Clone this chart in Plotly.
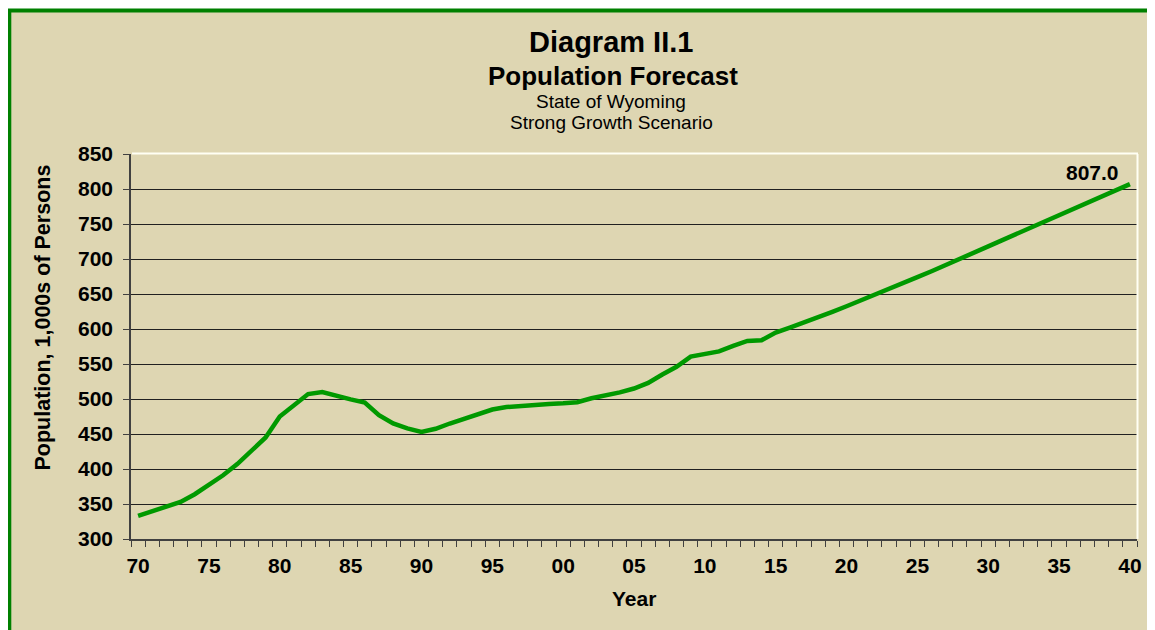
import plotly.graph_objects as go

# ---------------- data ----------------
years = list(range(1970, 2041))
population = [
    333, 340, 347, 353, 364, 377, 391, 407, 425, 445,          # 1970-1979
    475, 491, 507, 510, 504, 499.5, 495, 477, 465, 458,        # 1980-1989
    453, 457.5, 465, 472, 479.5, 485, 488.5, 490.5, 491.5, 493,  # 1990-1999
    494, 495.5, 501, 504.5, 509.5, 515, 523, 535, 546, 560.5,  # 2000-2009
    564, 568, 576, 583, 584, 595, 602, 609, 616.7, 624.5,      # 2010-2019
    632.5, 640.5, 648.5, 657, 665.5, 674, 682.5, 691, 700, 709,  # 2020-2029
    718, 727, 736, 745, 754, 763, 772, 781, 790, 798.5,        # 2030-2039
    807.0,                                                      # 2040
]
assert len(years) == len(population)
tick_years = list(range(1970, 2041, 5))
tick_labels = [f"{y % 100:02d}" for y in tick_years]
y_ticks = list(range(300, 851, 50))

title_main = "Diagram II.1"
title_sub = "Population Forecast"
subtitle1 = "State of Wyoming"
subtitle2 = "Strong Growth Scenario"
y_title = "Population, 1,000s of Persons"
x_title = "Year"

# ---------------- layout geometry (page pixels) ----------------
PAGE_W, PAGE_H = 1155, 630
OFF = 8                          # default body margin of the html page
PL, PT, PR, PB = 131, 154, 1137, 539   # plot area in page pixels
W, H = PAGE_W - OFF, PAGE_H - OFF
PW, PH = PR - PL, PB - PT

def px(x):
    return (x - PL) / PW

def py(y):
    return (PB - y) / PH

FONT = "Arial, Liberation Sans, Helvetica, sans-serif"
TAN = "#DED6B2"
PLOT_BG = "#FFFFE0"
LINE_GREEN = "#009900"
FRAME_GREEN = "#008000"

fig = go.Figure()
fig.add_trace(go.Scatter(
    x=years, y=population, mode="lines",
    line=dict(color=LINE_GREEN, width=4.5),
    hoverinfo="x+y", showlegend=False,
))

annotations = [
    dict(text=f"<b>{title_main}</b>", x=px(611), y=py(42.5), font=dict(size=29)),
    dict(text=f"<b>{title_sub}</b>", x=px(613), y=py(75.5), font=dict(size=26)),
    dict(text=subtitle1, x=px(611), y=py(101), font=dict(size=19)),
    dict(text=subtitle2, x=px(611), y=py(122.5), font=dict(size=19)),
    dict(text=f"<b>{y_title}</b>", x=px(42), y=py(317.5), textangle=-90, font=dict(size=21.5)),
    dict(text=f"<b>{x_title}</b>", x=px(634), y=py(598.5), font=dict(size=21)),
]
for a in annotations:
    a.update(xref="paper", yref="paper", xanchor="center", yanchor="middle",
             showarrow=False)
    a["font"].update(family=FONT, color="black")

# end-of-series value label
annotations.append(dict(
    x=years[-1], y=population[-1], xref="x", yref="y",
    text=f"<b>{population[-1]:.1f}</b>", showarrow=False,
    xanchor="right", yanchor="middle", xshift=-9, yshift=12,
    font=dict(family=FONT, size=21, color="black"),
))

shapes = [
    # framed tan background (frame extends past right/bottom edge)
    dict(type="rect", xref="paper", yref="paper", layer="below",
         x0=px(9.3), x1=px(PAGE_W + 40), y0=py(10.5), y1=py(PAGE_H + 40),
         fillcolor=TAN, line=dict(color=FRAME_GREEN, width=4)),
    # light top / right edge of plot area
    dict(type="line", xref="paper", yref="paper", layer="above",
         x0=px(PL + 1), x1=1 + 1 / PW, y0=1 + 0.5 / PH, y1=1 + 0.5 / PH,
         line=dict(color="#FFFFF4", width=2)),
    dict(type="line", xref="paper", yref="paper", layer="above",
         x0=1 + 0.5 / PW, x1=1 + 0.5 / PW, y0=0, y1=1,
         line=dict(color="#FFFFF4", width=2)),
]

fig.update_layout(
    width=W, height=H,
    margin=dict(l=PL - OFF, r=PAGE_W - PR, t=PT - OFF, b=PAGE_H - PB, pad=0),
    paper_bgcolor="white",
    plot_bgcolor=PLOT_BG,
    font=dict(family=FONT, color="black"),
    annotations=annotations,
    shapes=shapes,
    showlegend=False,
)

fig.update_xaxes(
    range=[years[0] - 0.5, years[-1] + 0.5],
    tickmode="array", tickvals=tick_years, ticktext=tick_labels,
    ticks="", ticklabelstandoff=7,
    tickfont=dict(family=FONT, size=21, color="black", weight="bold"),
    showgrid=False, zeroline=False,
    showline=True, linecolor="#404040", linewidth=1.5,
    minor=dict(ticks="outside", tick0=years[0] - 0.5, dtick=1,
               ticklen=6, tickcolor="#404040", tickwidth=1.2, showgrid=False),
)
fig.update_yaxes(
    range=[y_ticks[0], y_ticks[-1]],
    tickmode="array", tickvals=y_ticks,
    ticks="outside", ticklen=6, tickcolor="#404040", tickwidth=1.2,
    ticklabelstandoff=6,
    tickfont=dict(family=FONT, size=21, color="black", weight="bold"),
    showgrid=True, gridcolor="#202020", gridwidth=1,
    zeroline=False,
    showline=True, linecolor="#404040", linewidth=1.5,
)

fig.write_html("out.html")
